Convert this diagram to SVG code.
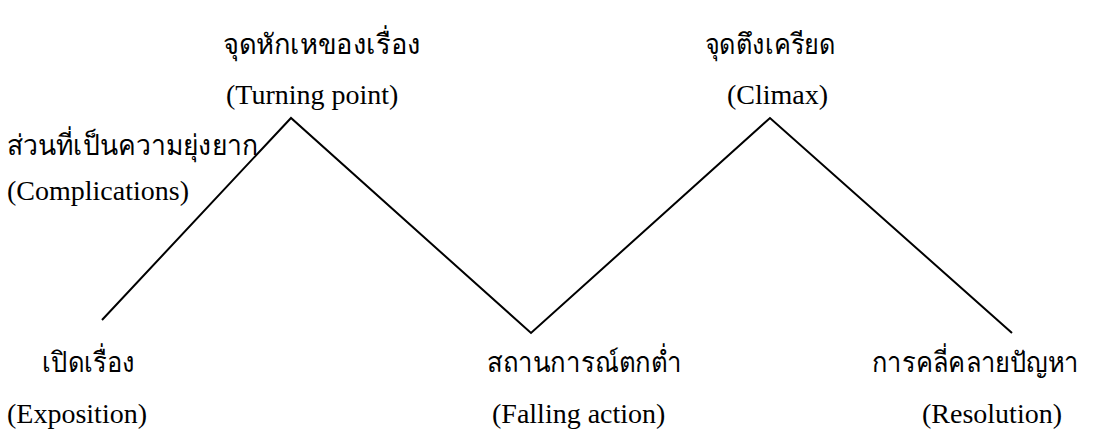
<svg xmlns="http://www.w3.org/2000/svg" width="1094" height="441" viewBox="0 0 1094 441">
<style>
text { font-family: "Liberation Serif", "Times New Roman", serif; font-size: 28px; fill: #000; }
.th { font-size: 28px; }
.end { text-anchor: end; }
.conn { fill: none; stroke: #000; stroke-width: 2; stroke-linejoin: miter; }
</style>
<rect width="1094" height="441" fill="#fff"/>
<g id="connectors">
<polyline class="conn" points="102,320 291,118 531,333 770,118 1012,333"/>
</g>
<g id="exposition">
<text class="th" x="42" y="372" textLength="93" lengthAdjust="spacingAndGlyphs">เปิดเรื่อง</text>
<text x="7" y="423">(Exposition)</text>
</g>
<g id="complications">
<text class="th" x="7" y="155" textLength="251" lengthAdjust="spacingAndGlyphs">ส่วนที่เป็นความยุ่งยาก</text>
<text x="7" y="200">(Complications)</text>
</g>
<g id="turning-point">
<text class="th" x="223" y="54" textLength="198" lengthAdjust="spacingAndGlyphs">จุดหักเหของเรื่อง</text>
<text x="226" y="104">(Turning point)</text>
</g>
<g id="falling-action">
<text class="th" x="487" y="372" textLength="195" lengthAdjust="spacingAndGlyphs">สถานการณ์ตกต่ำ</text>
<text x="492" y="423">(Falling action)</text>
</g>
<g id="climax">
<text class="th" x="705" y="54" textLength="130" lengthAdjust="spacingAndGlyphs">จุดตึงเครียด</text>
<text x="727" y="104">(Climax)</text>
</g>
<g id="resolution">
<text class="th end" x="1079" y="372" textLength="207" lengthAdjust="spacingAndGlyphs">การคลี่คลายปัญหา</text>
<text x="922" y="423">(Resolution)</text>
</g>
</svg>
